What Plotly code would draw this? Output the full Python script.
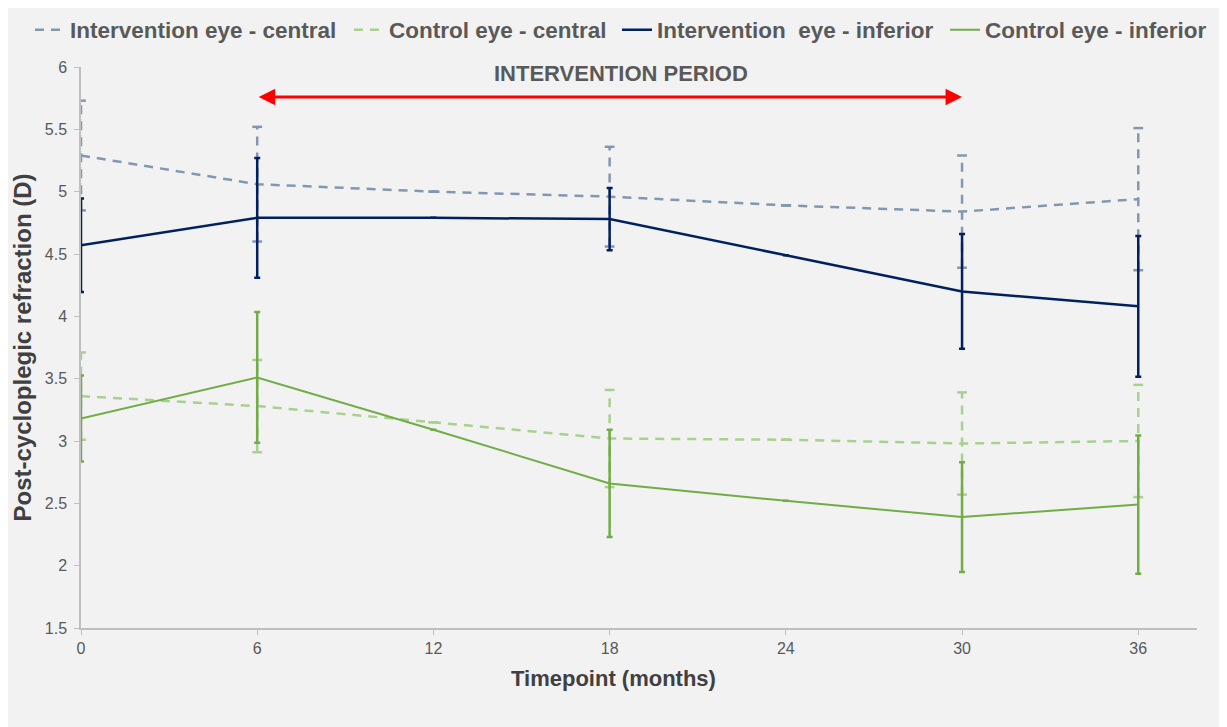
import plotly.graph_objects as go

timepoints = [0, 6, 12, 18, 24, 30, 36]
x_ticks = [0, 6, 12, 18, 24, 30, 36]
y_ticks = [1.5, 2, 2.5, 3, 3.5, 4, 4.5, 5, 5.5, 6]

int_central = [5.29, 5.06, 5.00, 4.96, 4.89, 4.84, 4.94]
int_central_err = [0.44, 0.46, 0.0, 0.40, 0.0, 0.45, 0.57]

ctrl_central = [3.36, 3.28, 3.15, 3.02, 3.01, 2.98, 3.00]
ctrl_central_err = [0.35, 0.37, 0.0, 0.39, 0.0, 0.41, 0.45]

int_inferior = [4.57, 4.79, 4.79, 4.78, 4.49, 4.20, 4.08]
int_inferior_err = [0.375, 0.48, 0.0, 0.25, 0.0, 0.46, 0.565]

ctrl_inferior = [3.18, 3.51, 3.09, 2.66, 2.52, 2.39, 2.49]
ctrl_inferior_err = [0.345, 0.525, 0.0, 0.43, 0.0, 0.44, 0.555]

intervention_period = [6, 30]
intervention_label = "INTERVENTION PERIOD"
arrow_level = 5.76

FONT = "Arial, Liberation Sans, sans-serif"
C_INT_C = "#8497b0"
C_CTRL_C = "#a9d18e"
C_INT_I = "#002060"
C_CTRL_I = "#70ad47"

fig = go.Figure()


def dashed_errors(x, y, e, color, name):
    xs, ys, cx, cy = [], [], [], []
    for xi, yi, ei in zip(x, y, e):
        xs += [xi, xi, None]
        ys += [yi - ei, yi + ei, None]
        cx += [xi, xi]
        cy += [yi - ei, yi + ei]
    fig.add_trace(go.Scatter(x=xs, y=ys, mode="lines", showlegend=False, hoverinfo="skip",
                             line=dict(color=color, width=2.5, dash="9px,7px"), name=name))
    fig.add_trace(go.Scatter(x=cx, y=cy, mode="markers", showlegend=False, hoverinfo="skip",
                             marker=dict(symbol="line-ew", size=7,
                                         line=dict(color=color, width=2.5))))


dashed_errors(timepoints, int_central, int_central_err, C_INT_C, "ic")
dashed_errors(timepoints, ctrl_central, ctrl_central_err, C_CTRL_C, "cc")

fig.add_trace(go.Scatter(x=timepoints, y=int_central, mode="lines", name="Intervention eye - central",
                         legend="legend",
                         line=dict(color=C_INT_C, width=2.5, dash="9px,7px")))
fig.add_trace(go.Scatter(x=timepoints, y=ctrl_central, mode="lines", name="Control eye - central",
                         legend="legend2",
                         line=dict(color=C_CTRL_C, width=2.5, dash="9px,7px")))
fig.add_trace(go.Scatter(x=timepoints, y=int_inferior, mode="lines", name="Intervention  eye - inferior",
                         legend="legend3",
                         line=dict(color=C_INT_I, width=2.5),
                         error_y=dict(type="data", array=int_inferior_err, visible=True,
                                      color=C_INT_I, thickness=2.5, width=3)))
fig.add_trace(go.Scatter(x=timepoints, y=ctrl_inferior, mode="lines", name="Control eye - inferior",
                         legend="legend4",
                         line=dict(color=C_CTRL_I, width=2),
                         error_y=dict(type="data", array=ctrl_inferior_err, visible=True,
                                      color=C_CTRL_I, thickness=2.5, width=3)))

fig.add_annotation(x=intervention_period[1], y=arrow_level, ax=intervention_period[0], ay=arrow_level,
                   xref="x", yref="y", axref="x", ayref="y", text="", showarrow=True,
                   arrowhead=2, arrowside="end+start", arrowsize=1.1, arrowwidth=3, arrowcolor="#ff0000")
fig.add_annotation(x=sum(intervention_period) / 2, y=5.945, xref="x", yref="y", xshift=11,
                   text="<b>" + intervention_label + "</b>",
                   showarrow=False, font=dict(family=FONT, size=22, color="#595959"))
fig.add_annotation(x=0.477, y=-0.09, xref="paper", yref="paper", yanchor="middle",
                   text="<b>Timepoint (months)</b>", showarrow=False,
                   font=dict(family=FONT, size=22, color="#404040"))

legend_style = dict(orientation="h", xref="container", yref="container",
                    xanchor="left", y=0.9694, yanchor="middle",
                    font=dict(family=FONT, size=22.5, color="#595959", weight="bold"),
                    bgcolor="rgba(0,0,0,0)", itemwidth=30, tracegroupgap=0)

fig.update_layout(
    width=1219, height=719,
    paper_bgcolor="#f2f2f2", plot_bgcolor="#f2f2f2",
    margin=dict(l=73, r=30, t=59, b=99, autoexpand=False),
    font=dict(family=FONT, color="#595959"),
    legend=dict(x=0.0180, **legend_style),
    legend2=dict(x=0.2797, **legend_style),
    legend3=dict(x=0.4996, **legend_style),
    legend4=dict(x=0.7687, **legend_style),
    xaxis=dict(range=[0, 38], tickvals=x_ticks, showgrid=False, zeroline=False,
               showline=True, linecolor="#bfbfbf", linewidth=1.5, automargin=False,
               ticks="outside", ticklen=5, tickcolor="#bfbfbf",
               tickfont=dict(size=16, color="#595959")),
    yaxis=dict(range=[1.5, 6], tickvals=y_ticks, ticktext=[f"{v:g}" for v in y_ticks],
               showgrid=False, zeroline=False, automargin=False,
               showline=True, linecolor="#bfbfbf", linewidth=1.5,
               ticks="outside", ticklen=5, tickcolor="#bfbfbf", ticklabelstandoff=4,
               tickfont=dict(size=16, color="#595959"),
               title=dict(text="<b>Post-cycloplegic refraction (D)</b>", font=dict(size=24, color="#404040"), standoff=6)),
)

fig.write_html("out.html")
